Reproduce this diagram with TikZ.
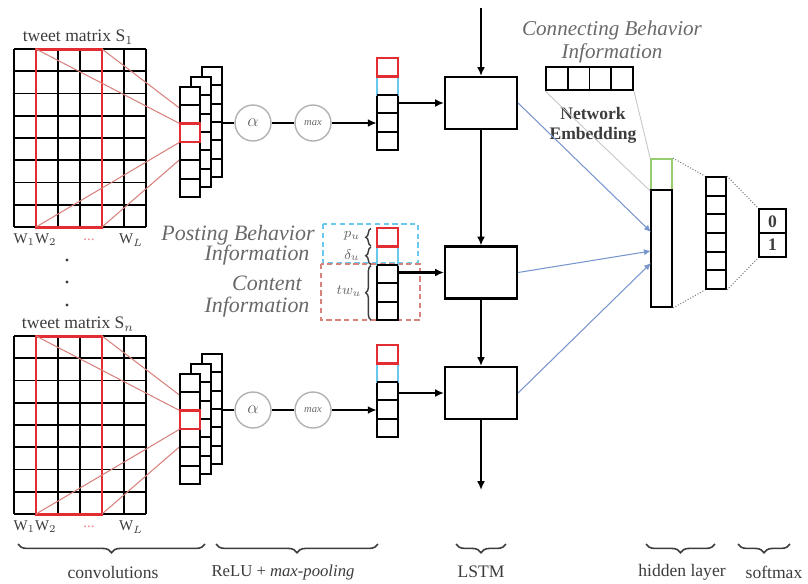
\documentclass[tikz,border=0pt]{standalone}
\usepackage{fontspec}
\setmainfont{Liberation Serif}
\usetikzlibrary{arrows.meta,decorations.pathreplacing}
\definecolor{cellred}{RGB}{226,45,50}
\definecolor{cellcyan}{RGB}{105,200,235}
\definecolor{cellgreen}{RGB}{150,205,110}
\definecolor{linkblue}{RGB}{120,150,205}
\definecolor{linkpink}{RGB}{215,130,125}
\definecolor{infogray}{RGB}{105,105,105}
\definecolor{labelgray}{RGB}{60,60,60}
\tikzset{
  gridline/.style={line width=1.1pt},
  cell/.style={draw, line width=1.1pt, fill=white},
  anchorbox/.style={inner sep=0pt, minimum width=0.42cm},
  op/.style={draw=gray!60, line width=0.8pt, circle, minimum size=0.72cm, inner sep=0pt, text=infogray},
  lstm/.style={draw, line width=1.2pt, minimum width=1.44cm, minimum height=1.04cm, inner sep=0pt},
  flow/.style={line width=1.2pt, -{Latex[length=5pt,width=4.5pt]}},
  feed/.style={linkblue, line width=0.6pt, -{Latex[length=4pt,width=3.5pt]}},
  convline/.style={linkpink, line width=0.6pt},
  hidlink/.style={gray, line width=0.6pt, densely dotted},
  emblink/.style={gray!45, line width=0.5pt},
  info/.style={text=infogray, font=\fontsize{12.5}{14}\selectfont\itshape},
  plain/.style={text=labelgray, font=\fontsize{10}{12}\selectfont},
  sidebrace/.style={decorate, decoration={brace, amplitude=3pt}, line width=0.8pt, labelgray},
  underbrace/.style={decorate, decoration={brace, mirror, amplitude=5pt}, line width=0.9pt, labelgray}
}
\begin{document}
\begin{tikzpicture}[x=0.02cm,y=-0.02cm]
\useasboundingbox (0,0) rectangle (808,583);

% two tweet branches
\foreach \dy/\k/\s in {0/1/1,287/3/n}{
\begin{scope}[shift={(0,\dy)}]
  \node[plain] at (78,37) {tweet matrix S$_\s$};
  \foreach \x in {14,36,...,146} \draw[gridline] (\x,49) -- (\x,227);
  \foreach \i in {0,...,8} \draw[gridline] (14,49+22.25*\i) -- (146,49+22.25*\i);
  \draw[cellred, line width=1.7pt] (36,49) rectangle (102,227);
  \node[plain, font=\fontsize{8.5}{10}\selectfont] at (35,240) {W$_1$W$_2$};
  \node[text=cellred!60, font=\fontsize{8.5}{10}\selectfont] at (89,240) {...};
  \node[plain, font=\fontsize{8.5}{10}\selectfont] at (131,240) {W$_L$};
  % filters
  \draw[convline] (36,49) -- (180,123.7);
  \draw[convline] (102,49) -- (200,123.7);
  \draw[convline] (36,227) -- (180,142);
  \draw[convline] (102,227) -- (200,142);
  \foreach \ox/\oy in {22/20,11/10,0/0}{
    \draw[cell] (180+\ox,87-\oy) rectangle (200+\ox,197-\oy);
    \foreach \i in {1,...,5} \draw[gridline] (180+\ox,87-\oy+18.33*\i) -- (200+\ox,87-\oy+18.33*\i);
  }
  \draw[cellred, line width=1.6pt] (180,123.7) rectangle (200,142);
  \coordinate (f\k) at (222,123);
  % pooled vector
  \draw[cell] (377,94.8) rectangle (398,150);
  \draw[gridline] (377,113.2) -- (398,113.2);
  \draw[gridline] (377,131.6) -- (398,131.6);
  \draw[cellcyan, line width=1.3pt] (377,76.4) rectangle (398,94.8);
  \draw[gridline] (377,94.8) -- (398,94.8);
  \draw[cellred, line width=1.3pt] (377,58) rectangle (398,76.4);
  \node[anchorbox, minimum height=1.84cm] (v\k) at (387.5,104) {};
  \node[op] (a\k) at (253,123) {$\alpha$};
  \node[op] (m\k) at (313,123) {\fontsize{6}{7}\selectfont\itshape max};
  \draw[line width=1.2pt] (f\k) -- (a\k);
  \draw[line width=1.2pt] (a\k) -- (m\k);
  \draw[flow] (m\k) -- (m\k -| v\k.west);
\end{scope}
}
\fill[labelgray] (67,260) circle (0.9pt);
\fill[labelgray] (67,282) circle (0.9pt);
\fill[labelgray] (67,305) circle (0.9pt);

% posting / content vector
\draw[cellcyan, densely dashed, line width=0.6pt] (323,224) rectangle (418,263);
\draw[linkpink, densely dashed, line width=0.6pt] (321,264) rectangle (420,320);
\draw[cell] (377,264.8) rectangle (398,320);
\draw[gridline] (377,283.2) -- (398,283.2);
\draw[gridline] (377,301.6) -- (398,301.6);
\draw[cellcyan, line width=1.3pt] (377,246.4) rectangle (398,264.8);
\draw[gridline] (377,264.8) -- (398,264.8);
\draw[cellred, line width=1.3pt] (377,228) rectangle (398,246.4);
\node[anchorbox, minimum height=1.84cm] (v2) at (387.5,274) {};
\draw[sidebrace] (371,246) -- (371,228.5);
\draw[sidebrace] (371,264.5) -- (371,247);
\draw[sidebrace] (371,320) -- (371,265.5);
\node[text=infogray, font=\fontsize{8}{9}\selectfont] at (352,236) {$p_u$};
\node[text=infogray, font=\fontsize{8}{9}\selectfont] at (352,255) {$\delta_u$};
\node[text=infogray, font=\fontsize{8}{9}\selectfont] at (349,291) {$tw_u$};
\node[info] at (238,235) {Posting Behavior};
\node[info] at (257,255) {Information};
\node[info] at (267,283) {Content};
\node[info] at (257,307) {Information};

% LSTM chain
\node[lstm] (l1) at (481,103) {};
\node[lstm] (l2) at (481,272.5) {};
\node[lstm] (l3) at (481,393) {};
\coordinate (lin) at (481,8);
\coordinate (lout) at (481,490);
\draw[flow] (lin) -- (l1);
\draw[flow] (l1) -- (l2);
\draw[flow] (l2) -- (l3);
\draw[flow] (l3) -- (lout);
\draw[flow] (v1.east |- l1) -- (l1);
\draw[flow] (v2.east |- l2) -- (l2);
\draw[flow] (v3.east |- l3) -- (l3);

% network embedding
\node[info, font=\fontsize{12}{14}\selectfont\itshape] at (612,30) {Connecting Behavior};
\node[info, font=\fontsize{12}{14}\selectfont\itshape] at (612,53) {Information};
\node[draw, line width=1.1pt, inner sep=0pt, minimum width=1.74cm, minimum height=0.46cm] (emb) at (589.5,78.5) {};
\draw[gridline] (567.75,67) -- (567.75,90);
\draw[gridline] (589.5,67) -- (589.5,90);
\draw[gridline] (611.25,67) -- (611.25,90);
\node[text=labelgray, font=\fontsize{10}{12}\selectfont\bfseries] at (593,113) {Network};
\node[text=labelgray, font=\fontsize{10}{12}\selectfont\bfseries] at (593,135) {Embedding};

% hidden layer and softmax
\node[draw=cellgreen, line width=1pt, anchorbox, minimum height=0.62cm] (g) at (661.5,174.5) {};
\node[draw, line width=1.1pt, anchorbox, minimum height=2.34cm] (h) at (661.5,248.5) {};
\node[draw, line width=1.1pt, inner sep=0pt, minimum width=0.4cm, minimum height=2.24cm] (h2) at (716,233) {};
\foreach \i in {1,...,5} \draw[gridline] (706,177+18.67*\i) -- (726,177+18.67*\i);
\node[draw, line width=1.1pt, inner sep=0pt, minimum width=0.54cm, minimum height=0.96cm] (sm) at (772.5,233) {};
\draw[gridline] (sm.west) -- (sm.east);
\node[text=labelgray, font=\fontsize{10}{12}\selectfont\bfseries] at (772.5,221.5) {0};
\node[text=labelgray, font=\fontsize{10}{12}\selectfont\bfseries] at (772.5,245) {1};
\draw[emblink] (emb.south west) -- (g.south west);
\draw[emblink] (emb.south east) -- (g.north west);
\draw[hidlink] (g.north east) -- (h2.north west);
\draw[hidlink] (h.south east) -- (h2.south west);
\draw[hidlink] (h2.north east) -- (sm.north west);
\draw[hidlink] (h2.south east) -- (sm.south west);
\coordinate (t1) at (651,232);
\coordinate (t2) at (651,251);
\coordinate (t3) at (651,263);
\draw[feed] (l1.east) -- (t1);
\draw[feed] (l2.east) -- (t2);
\draw[feed] (l3.east) -- (t3);

% stage labels
\draw[underbrace] (18,544) -- (205,544);
\draw[underbrace] (216,544) -- (378,544);
\draw[underbrace] (456,544) -- (506,544);
\draw[underbrace] (646,544) -- (715,544);
\draw[underbrace] (738,544) -- (790,544);
\node[plain] at (113,572) {convolutions};
\node[plain, font=\fontsize{9.5}{12}\selectfont] at (283,572) {ReLU + \textit{max-pooling}};
\node[plain] at (481,572) {LSTM};
\node[plain] at (682,572) {hidden layer};
\node[plain] at (774,572) {softmax};
\end{tikzpicture}
\end{document}
